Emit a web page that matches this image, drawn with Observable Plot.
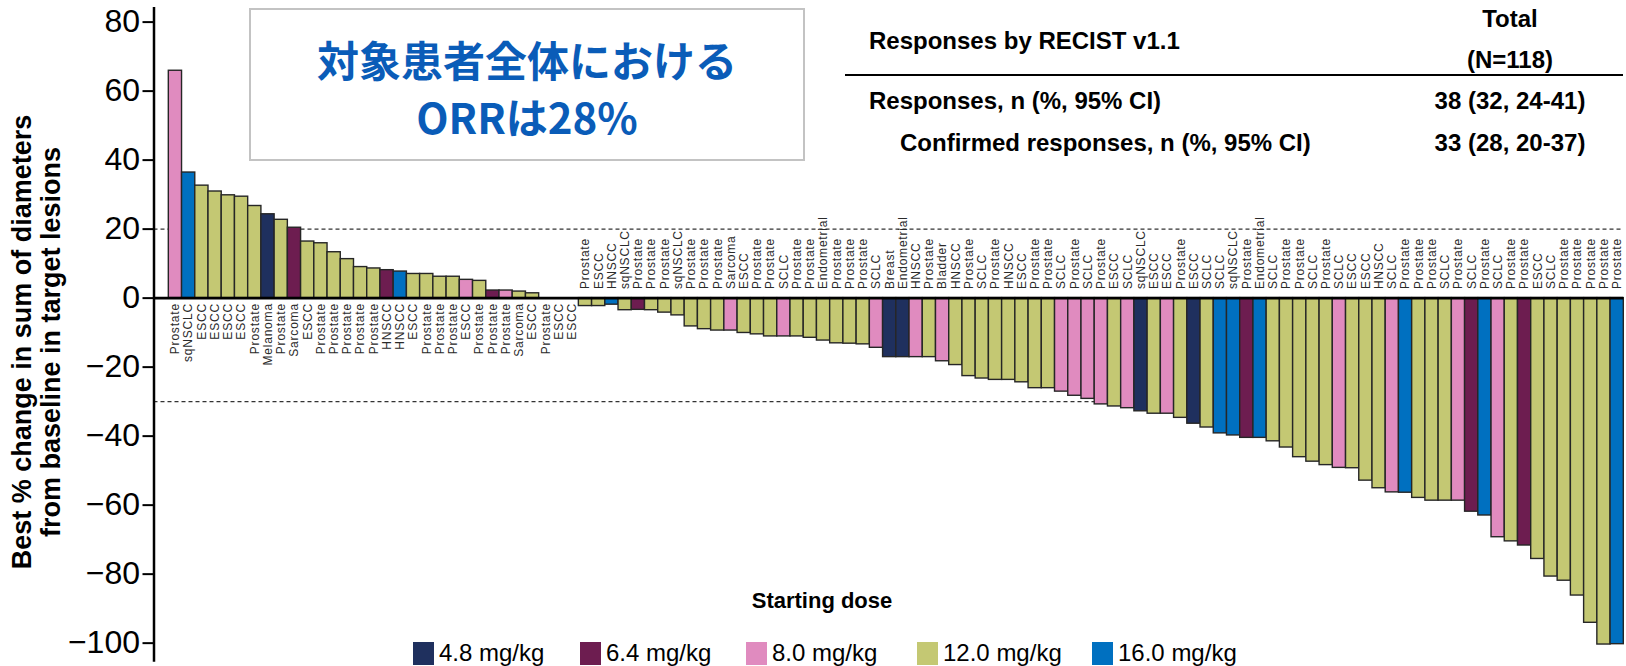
<!DOCTYPE html>
<html><head><meta charset="utf-8">
<script src="https://cdn.jsdelivr.net/npm/d3@7"></script>
<script src="https://cdn.jsdelivr.net/npm/@observablehq/plot@0.6"></script>
<style>
body{margin:0;background:#fff;}
#wrap{position:relative;width:1626px;height:666px;overflow:hidden;font-family:"Liberation Sans",Arial,sans-serif;color:#000;}
#chart{position:absolute;left:0;top:0;}
.t{position:absolute;white-space:nowrap;}
.b{font-weight:bold;}
#titlebox{position:absolute;left:249px;top:8px;width:552px;height:149px;border:2px solid #c3c3c3;background:#fff;}
#titlebox div{position:absolute;left:0;width:100%;text-align:center;font-family:"Noto Sans CJK JP",sans-serif;font-weight:bold;font-size:42px;line-height:50px;color:#0a5cb8;}
#chart g[aria-label="text"] text{letter-spacing:0.8px;}
</style></head><body>
<div id="wrap"><div id="chart"></div></div>
<script>
// ---- data ----
const tumorTypes = [
 "Prostate","sqNSCLC","ESCC","ESCC","ESCC","ESCC","Prostate","Melanoma","Prostate","Sarcoma",
 "ESCC","Prostate","Prostate","Prostate","Prostate","Prostate","HNSCC","HNSCC","ESCC","Prostate",
 "Prostate","Prostate","ESCC","Prostate","Prostate","Prostate","Sarcoma","ESCC","Prostate","ESCC","ESCC",
 "Prostate","ESCC","HNSCC","sqNSCLC","Prostate","Prostate","Prostate","sqNSCLC","Prostate","Prostate",
 "Prostate","Sarcoma","ESCC","Prostate","Prostate","SCLC","Prostate","Prostate","Endometrial","Prostate",
 "Prostate","Prostate","SCLC","Breast","Endometrial","HNSCC","Prostate","Bladder","HNSCC","Prostate",
 "SCLC","Prostate","HNSCC","ESCC","Prostate","Prostate","SCLC","Prostate","SCLC","Prostate",
 "ESCC","SCLC","sqNSCLC","ESCC","ESCC","Prostate","ESCC","SCLC","SCLC","sqNSCLC",
 "Prostate","Endometrial","SCLC","Prostate","Prostate","SCLC","Prostate","SCLC","ESCC","ESCC",
 "HNSCC","SCLC","Prostate","Prostate","Prostate","SCLC","Prostate","SCLC","Prostate","SCLC",
 "Prostate","Prostate","ESCC","SCLC","Prostate","Prostate","Prostate","Prostate","Prostate"
];
const pctChange = [
 65.9,36.4,32.6,30.9,29.8,29.4,26.7,24.3,22.7,20.4,
 16.4,15.9,13.3,11.3,9.0,8.6,8.1,7.7,7.0,7.0,
 6.2,6.2,5.3,5.0,2.2,2.2,1.9,1.4,0,0,0,
 -2.3,-2.3,-1.9,-3.5,-3.4,-3.5,-4.2,-5.0,-8.2,-9.0,
 -9.4,-9.4,-10.1,-10.5,-11.1,-11.1,-11.1,-11.5,-12.3,-13.1,
 -13.2,-13.4,-14.4,-17.1,-17.1,-17.1,-17.1,-18.3,-19.4,-22.6,
 -23.3,-23.7,-23.7,-24.4,-26.1,-26.1,-27.1,-28.3,-29.2,-30.8,
 -31.4,-31.9,-32.8,-33.5,-33.5,-34.7,-36.4,-37.5,-39.2,-39.8,
 -40.5,-40.5,-41.5,-43.3,-46.1,-47.4,-48.4,-49.2,-49.3,-52.9,
 -55.1,-56.3,-56.4,-57.9,-58.7,-58.7,-58.7,-61.9,-63.0,-69.3,
 -70.5,-71.7,-75.6,-80.7,-81.9,-86.2,-94.1,-100.4,-100.3
];
const startDose = [
 8.0,16.0,12.0,12.0,12.0,12.0,12.0,4.8,12.0,6.4,
 12.0,12.0,12.0,12.0,12.0,12.0,6.4,16.0,12.0,12.0,
 12.0,12.0,8.0,12.0,6.4,8.0,12.0,12.0,12.0,12.0,12.0,
 12.0,12.0,16.0,12.0,6.4,12.0,12.0,12.0,12.0,12.0,
 12.0,8.0,12.0,12.0,12.0,8.0,12.0,12.0,12.0,12.0,
 12.0,12.0,8.0,4.8,4.8,8.0,12.0,8.0,12.0,12.0,
 12.0,12.0,12.0,12.0,12.0,12.0,8.0,8.0,8.0,8.0,
 12.0,8.0,4.8,12.0,8.0,12.0,4.8,12.0,16.0,16.0,
 6.4,16.0,12.0,12.0,12.0,12.0,12.0,8.0,12.0,12.0,
 12.0,8.0,16.0,12.0,12.0,12.0,8.0,6.4,16.0,8.0,
 12.0,6.4,12.0,12.0,12.0,12.0,12.0,12.0,16.0
];
const doseLevels = [4.8, 6.4, 8.0, 12.0, 16.0];
const doseLabels = ["4.8 mg/kg","6.4 mg/kg","8.0 mg/kg","12.0 mg/kg","16.0 mg/kg"];
const doseColors = ["#1f305e","#6d1d50","#e08bbf","#c4c873","#0070c0"];
const yTicks = [-100,-80,-60,-40,-20,0,20,40,60,80];
const thresholds = [20, -30];
const yTitle = ["Best % change in sum of diameters","from baseline in target lesions"];
const headline = ["対象患者全体における","ORRは28%"];
const tableHeader = ["Responses by RECIST v1.1","Total","(N=118)"];
const tableRowLabels = ["Responses, n (%, 95% CI)","Confirmed responses, n (%, 95% CI)"];
const tableRowValues = ["38 (32, 24-41)","33 (28, 20-37)"];
const legendTitle = "Starting dose";

// ---- build ----
const rows = tumorTypes.map((t,k)=>({i:k+1, tumor:t, value:pctChange[k], dose:doseLabels[doseLevels.indexOf(startDose[k])]}));
const n = rows.length;

const plot = Plot.plot({
  width:1626, height:666,
  marginLeft:153.5, marginRight:2.7, marginTop:7.8, marginBottom:6.1,
  x:{domain:[-0.62, n+0.5], axis:null},
  y:{domain:[-105,84], axis:null},
  color:{domain:doseLabels, range:doseColors},
  style:{fontFamily:"Liberation Sans, Arial, sans-serif", background:"transparent", color:"#000"},
  marks:[
    Plot.ruleY(thresholds,{stroke:"#333", strokeWidth:1.2, strokeDasharray:"4,3"}),
    Plot.rect(rows,{x1:d=>d.i-0.5, x2:d=>d.i+0.5, y1:0, y2:"value", fill:"dose", stroke:"#262626", strokeWidth:1.4}),
    Plot.ruleY([0],{stroke:"#000", strokeWidth:2.6}),
    Plot.axisY(yTicks,{tickSize:11, tickPadding:3, fontSize:32, strokeWidth:2, label:null}),
    Plot.frame({anchor:"left", strokeWidth:2.5}),
    Plot.text(rows.filter(d=>d.value>=0),{x:"i", y:0, text:"tumor", rotate:-90, textAnchor:"end", dy:5, fontSize:12, fill:"#2a2a2a"}),
    Plot.text(rows.filter(d=>d.value<0),{x:"i", y:0, text:"tumor", rotate:-90, textAnchor:"start", dy:-9, fontSize:12, fill:"#2a2a2a"})
  ]
});
document.getElementById("chart").append(plot);

const wrap = document.getElementById("wrap");
function put(txt, x, y, opts={}){
  const d = document.createElement("div");
  d.className = "t" + (opts.bold ? " b" : "");
  d.textContent = txt;
  const fs = opts.size || 24;
  d.style.fontSize = fs + "px";
  d.style.lineHeight = (fs*1.2) + "px";
  d.style.top = (y - fs*0.6) + "px";
  d.style.left = x + "px";
  if (opts.align === "center") d.style.transform = "translateX(-50%)";
  if (opts.color) d.style.color = opts.color;
  wrap.append(d);
  return d;
}
// title box
const tb = document.createElement("div"); tb.id = "titlebox";
headline.forEach((h,k)=>{const d=document.createElement("div"); d.textContent=h; d.style.top=(k===0?24:81)+"px"; tb.append(d);});
wrap.append(tb);
// table
put(tableHeader[0], 869, 41.5, {bold:true, size:24});
put(tableHeader[1], 1510, 19, {bold:true, size:24, align:"center"});
put(tableHeader[2], 1510, 60, {bold:true, size:24, align:"center"});
const rule = document.createElement("div");
Object.assign(rule.style,{position:"absolute",left:"845px",top:"73.5px",width:"778px",height:"2.6px",background:"#000"});
wrap.append(rule);
put(tableRowLabels[0], 869, 101.6, {bold:true, size:24});
put(tableRowLabels[1], 900, 143, {bold:true, size:24});
put(tableRowValues[0], 1510, 101.6, {bold:true, size:24, align:"center"});
put(tableRowValues[1], 1510, 143, {bold:true, size:24, align:"center"});
// y axis title
yTitle.forEach((s,k)=>{
  const d = document.createElement("div");
  d.className = "t b"; d.textContent = s;
  Object.assign(d.style,{fontSize:"27px", lineHeight:"30px", width:"600px", textAlign:"center",
    left:((k===0?22:51)-300)+"px", top:(342-15)+"px", transform:"rotate(-90deg)", transformOrigin:"50% 50%"});
  wrap.append(d);
});
// legend
put(legendTitle, 822, 601, {bold:true, size:22, align:"center"});
const lx = [413, 580, 746, 917, 1092];
doseLabels.forEach((lab,k)=>{
  const sq = document.createElement("div");
  Object.assign(sq.style,{position:"absolute", left:lx[k]+"px", top:"642px", width:"21px", height:"23px", background:doseColors[k]});
  wrap.append(sq);
  put(lab, lx[k]+26, 653.5, {size:24});
});
</script>
</body></html>
